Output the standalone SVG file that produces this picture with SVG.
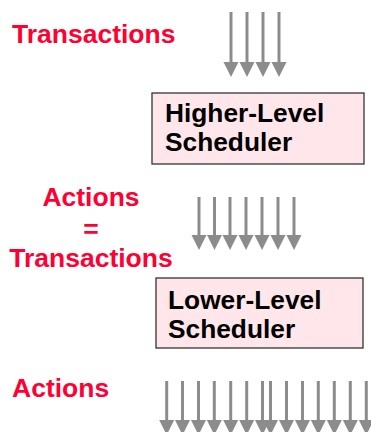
<svg xmlns="http://www.w3.org/2000/svg" width="371" height="432" viewBox="0 0 371 432">
  <style>
    .lbl { font-family: "Liberation Sans", Arial, sans-serif; font-weight: bold; font-size: 26.5px; fill: #ff0033; }
    .box { fill: #ffe6ea; stroke: #333333; stroke-width: 1.3; }
    .boxtxt { font-family: "Liberation Sans", Arial, sans-serif; font-weight: bold; font-size: 26.3px; fill: #000000; }
    .flow { stroke: #8c8c8c; stroke-width: 3; fill: none; marker-end: url(#head); }
  </style>
  <defs>
    <marker id="head" markerUnits="userSpaceOnUse" markerWidth="16" markerHeight="16" refX="7.5" refY="0" orient="0" overflow="visible">
      <path d="M0,0 L15,0 L7.5,15 Z" fill="#8c8c8c"/>
    </marker>
  </defs>

  <!-- side labels -->
  <g id="label-transactions">
    <text class="lbl" x="12" y="43">Transactions</text>
  </g>
  <g id="label-actions-eq-transactions">
    <text class="lbl" x="91" y="206" text-anchor="middle">Actions</text>
    <text class="lbl" x="91" y="238" text-anchor="middle">=</text>
    <text class="lbl" x="91" y="267" text-anchor="middle">Transactions</text>
  </g>
  <g id="label-actions">
    <text class="lbl" x="12" y="397">Actions</text>
  </g>

  <!-- schedulers -->
  <g id="higher-level-scheduler">
    <rect class="box" x="152" y="93" width="212" height="71"/>
    <text class="boxtxt" x="165" y="122">Higher-Level</text>
    <text class="boxtxt" x="165" y="151">Scheduler</text>
  </g>
  <g id="lower-level-scheduler">
    <rect class="box" x="156" y="278" width="207" height="70"/>
    <text class="boxtxt" x="168" y="309">Lower-Level</text>
    <text class="boxtxt" x="168" y="338">Scheduler</text>
  </g>

  <!-- flows of work between levels -->
  <g id="connectors">
    <!-- transactions into the higher-level scheduler -->
    <line class="flow" x1="231" y1="12" x2="231" y2="62"/>
    <line class="flow" x1="247" y1="12" x2="247" y2="62"/>
    <line class="flow" x1="263" y1="12" x2="263" y2="62"/>
    <line class="flow" x1="279" y1="12" x2="279" y2="62"/>
    <!-- actions passed to the lower-level scheduler -->
    <line class="flow" x1="199" y1="197" x2="199" y2="235"/>
    <line class="flow" x1="214.5" y1="197" x2="214.5" y2="235"/>
    <line class="flow" x1="230" y1="197" x2="230" y2="235"/>
    <line class="flow" x1="246" y1="197" x2="246" y2="235"/>
    <line class="flow" x1="262" y1="197" x2="262" y2="235"/>
    <line class="flow" x1="278" y1="197" x2="278" y2="235"/>
    <line class="flow" x1="294" y1="197" x2="294" y2="235"/>
    <!-- resulting actions -->
    <line class="flow" x1="166.7" y1="381" x2="166.7" y2="420"/>
    <line class="flow" x1="182.5" y1="381" x2="182.5" y2="420"/>
    <line class="flow" x1="198.5" y1="381" x2="198.5" y2="420"/>
    <line class="flow" x1="214.3" y1="381" x2="214.3" y2="420"/>
    <line class="flow" x1="230.7" y1="381" x2="230.7" y2="420"/>
    <line class="flow" x1="246.7" y1="381" x2="246.7" y2="420"/>
    <line class="flow" x1="262.5" y1="381" x2="262.5" y2="420"/>
    <line class="flow" x1="270.5" y1="381" x2="270.5" y2="420"/>
    <line class="flow" x1="286.5" y1="381" x2="286.5" y2="420"/>
    <line class="flow" x1="302.5" y1="381" x2="302.5" y2="420"/>
    <line class="flow" x1="318.3" y1="381" x2="318.3" y2="420"/>
    <line class="flow" x1="334.3" y1="381" x2="334.3" y2="420"/>
    <line class="flow" x1="350.3" y1="381" x2="350.3" y2="420"/>
    <line class="flow" x1="366.3" y1="381" x2="366.3" y2="420"/>
  </g>
</svg>
